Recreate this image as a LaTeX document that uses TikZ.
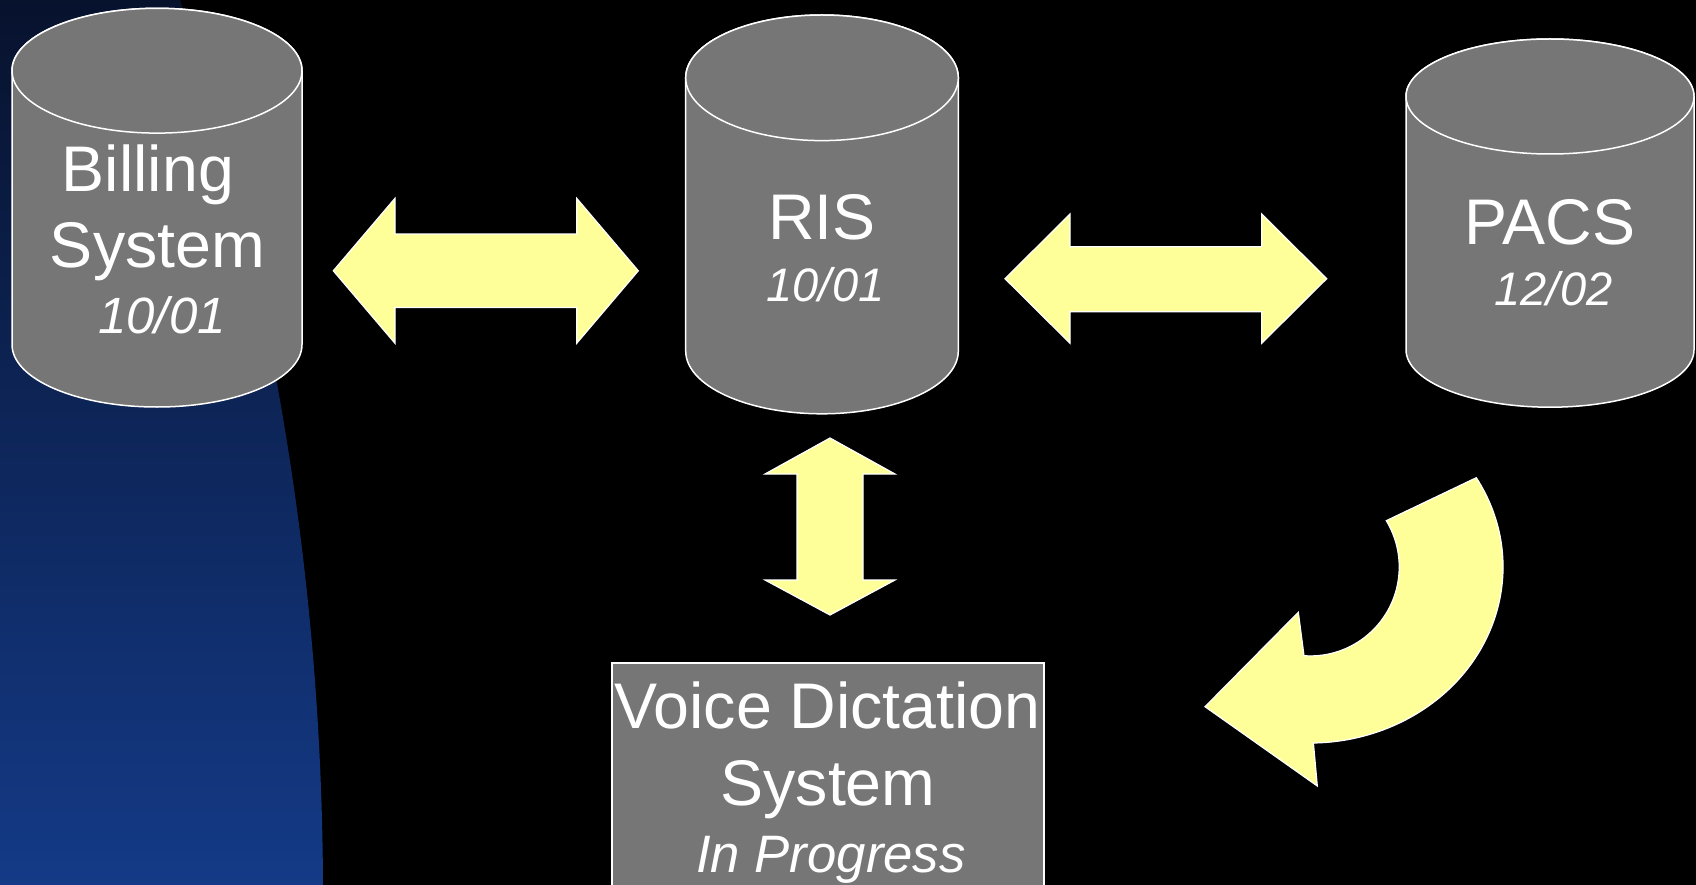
\documentclass[tikz,border=0pt]{standalone}
\usepackage{fontspec}
\setmainfont{Liberation Sans}
\definecolor{cylgray}{RGB}{118,118,118}
\definecolor{arrowyellow}{RGB}{255,255,153}
\definecolor{bgtop}{RGB}{7,18,45}
\definecolor{bgbottom}{RGB}{20,58,135}
\tikzset{
  cylbody/.style={fill=cylgray, draw=white, line width=1.5pt},
  blockarrow/.style={fill=arrowyellow, draw=white, line width=1.2pt, line join=miter},
  maintext/.style={text=white, font=\fontsize{64.5}{70}\selectfont, anchor=base, inner sep=0pt},
  datetext/.style={text=white, font=\fontsize{47}{55}\selectfont\itshape, anchor=base, inner sep=0pt},
}
% cx, top cy, bottom cy, rx, ry  (y measured downward)
\newcommand{\drawcyl}[5]{%
  \path[cylbody] (#1-#4,-#2) -- (#1-#4,-#3)
     arc[start angle=180,end angle=360,x radius=#4,y radius=#5]
     -- (#1+#4,-#2)
     arc[start angle=0,end angle=180,x radius=#4,y radius=#5] -- cycle;
  \draw[cylbody] (#1,-#2) ellipse[x radius=#4,y radius=#5];
}
\begin{document}
\begin{tikzpicture}[x=1pt,y=1pt]
\useasboundingbox (0,0) rectangle (1696,-885);
\clip (0,0) rectangle (1696,-885);
\fill[black] (0,0) rectangle (1696,-885);
% blue band on the left
\shade[top color=bgtop, bottom color=bgbottom]
  (0,0) -- (180,0) arc[start angle=18.15, end angle=0.21, radius=2875]
  -- (323,-885) -- (0,-885) -- cycle;

% cylinders
\drawcyl{157}{70.7}{344.6}{145}{62.4}
\coordinate (billing) at (157,-207);
\drawcyl{822}{77.8}{351}{136.3}{62.8}
\coordinate (ris) at (822,-214);
\drawcyl{1550}{96.5}{349.7}{144}{57.5}
\coordinate (pacs) at (1550,-223);

% voice dictation box
\draw[cylbody] (612,-663) rectangle (1044,-905);
\coordinate (voice) at (828,-780);

% texts
\node[maintext] (billingA) at (148,-192) {Billing};
\node[maintext] (billingB) at (157.5,-268) {System};
\node[datetext, font=\fontsize{51}{58}\selectfont\itshape] (billingC) at (162,-333) {10/01};
\node[maintext] (risA) at (822,-239.3) {RIS};
\node[datetext] (risB) at (825.5,-301.7) {10/01};
\node[maintext] (pacsA) at (1550,-245) {PACS};
\node[datetext] (pacsB) at (1553.5,-305) {12/02};
\node[maintext] (voiceA) at (827.5,-728) {Voice Dictation};
\node[maintext] (voiceB) at (828,-805) {System};
\node[datetext, font=\fontsize{52.7}{60}\selectfont\itshape] (voiceC) at (831,-872) {In Progress};

% Billing <-> RIS
\path[blockarrow] (333.3,-270.8) -- (395,-198.3) -- (395,-234.1) -- (576.7,-234.1)
  -- (576.7,-198.3) -- (638.3,-270.8) -- (576.7,-343.3) -- (576.7,-307.5)
  -- (395,-307.5) -- (395,-343.3) -- cycle;
% RIS <-> PACS
\path[blockarrow] (1005,-278.7) -- (1070,-214) -- (1070,-246.7) -- (1261.7,-246.7)
  -- (1261.7,-214) -- (1326.7,-278.7) -- (1261.7,-343.3) -- (1261.7,-311.7)
  -- (1070,-311.7) -- (1070,-343.3) -- cycle;
% RIS <-> Voice
\path[blockarrow] (830,-438) -- (895,-474) -- (863,-474) -- (863,-580)
  -- (895,-580) -- (830,-615) -- (765,-580) -- (797,-580)
  -- (797,-474) -- (765,-474) -- cycle;
% PACS -> Voice curved arrow
\path[blockarrow] (1476.3,-477.7)
  arc[start angle=30.5, end angle=-89, x radius=193, y radius=176]
  -- (1317.3,-786) -- (1205,-706.7) -- (1298.3,-612.3) -- (1304,-655.7)
  arc[start angle=-94, end angle=31.3, radius=89] -- cycle;
\end{tikzpicture}
\end{document}
